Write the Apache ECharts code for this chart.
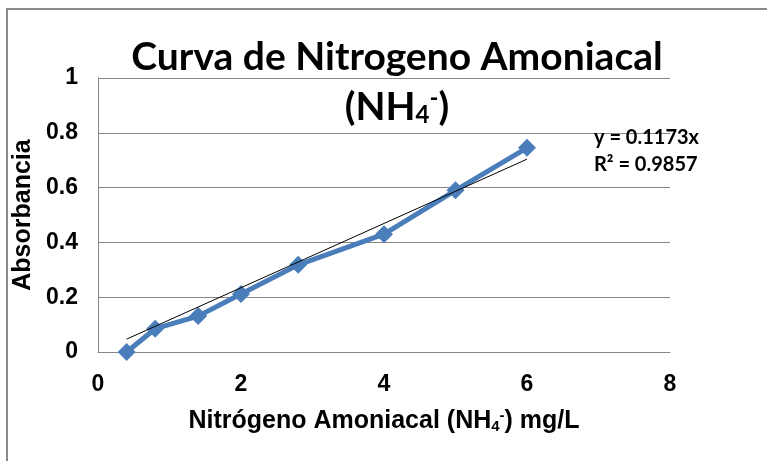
<!DOCTYPE html>
<html>
<head>
<meta charset="utf-8">
<script src="https://cdn.jsdelivr.net/npm/echarts@6/dist/echarts.min.js"></script>
<style>
  html, body { margin: 0; padding: 0; background: #fff; }
  #chart { width: 767px; height: 461px; }
</style>
</head>
<body>
<div id="chart"></div>
<script>
// datos
const concentracion = [0.4, 0.8, 1.4, 2, 2.8, 4, 5, 6]
const absorbancia = [0, 0.085, 0.131, 0.212, 0.318, 0.43, 0.59, 0.745]
const pendiente = 0.1173 // y = 0.1173x
const r2 = 0.9857
const xTicks = [0, 2, 4, 6, 8]
const yTicks = [0, 0.2, 0.4, 0.6, 0.8, 1]

const puntos = concentracion.map((x, i) => [x, absorbancia[i]])
// linea de tendencia entre el primer y ultimo punto
const xIni = concentracion[0]
const xFin = concentracion[concentracion.length - 1]
const tendencia = [[xIni, pendiente * xIni], [xFin, pendiente * xFin]]

const gris = '#868686'

const chart = echarts.init(document.getElementById('chart'))

const option = {
  animation: false,
  backgroundColor: '#fff',
  title: [
    {
      text: '{t|Curva de Nitrogeno Amoniacal}\n{t|(NH}{sub|4}{sup|-}{t|)}',
      left: 392,
      top: 27,
      textAlign: 'center',
      textStyle: {
        rich: {
          t: { fontFamily: 'Lato', fontWeight: 'bold', fontSize: 39, lineHeight: 50, color: '#000' },
          sub: { fontFamily: 'Lato', fontWeight: 'bold', fontSize: 24, lineHeight: 50, color: '#000', padding: [16, 0, 0, 0] },
          sup: { fontFamily: 'Lato', fontWeight: 'bold', fontSize: 24, lineHeight: 50, color: '#000', padding: [0, 0, 18, 0] }
        }
      }
    },
    {
      text: 'y = ' + pendiente + 'x\nR² = ' + r2,
      left: 589,
      top: 119,
      textStyle: { fontFamily: 'Lato', fontWeight: 'bold', fontSize: 20, lineHeight: 27, color: '#000' }
    }
  ],
  graphic: [
    {
      type: 'rect',
      shape: { x: 7, y: 9, width: 820, height: 520 },
      style: { fill: 'none', stroke: '#8a8a8a', lineWidth: 2 },
      silent: true
    }
  ],
  grid: { left: 98, right: 97, top: 78, bottom: 109, containLabel: false },
  xAxis: {
    type: 'value',
    min: xTicks[0],
    max: xTicks[xTicks.length - 1],
    interval: 2,
    name: '{n|Nitrógeno Amoniacal (NH}{sub|4}{sup|-}{n|) mg/L}',
    nameLocation: 'middle',
    nameGap: 56,
    nameTextStyle: {
      rich: {
        n: { fontFamily: 'Liberation Sans', fontWeight: 'bold', fontSize: 25, color: '#000' },
        sub: { fontFamily: 'Liberation Sans', fontWeight: 'bold', fontSize: 15, color: '#000', padding: [11, 0, 0, 0] },
        sup: { fontFamily: 'Liberation Sans', fontWeight: 'bold', fontSize: 15, color: '#000', padding: [0, 0, 11, 0] }
      }
    },
    axisLine: { show: true, lineStyle: { color: gris, width: 1 } },
    axisTick: { show: false },
    splitLine: { show: false },
    axisLabel: {
      margin: 21,
      fontFamily: 'Liberation Sans', fontWeight: 'bold', fontSize: 23, color: '#000',
      formatter: v => xTicks.includes(v) ? String(v) : ''
    }
  },
  yAxis: {
    type: 'value',
    min: yTicks[0],
    max: yTicks[yTicks.length - 1],
    interval: 0.2,
    name: 'Absorbancia',
    nameLocation: 'middle',
    nameGap: 56,
    nameTextStyle: { fontFamily: 'Liberation Sans', fontWeight: 'bold', fontSize: 25, color: '#000' },
    axisLine: { show: true, lineStyle: { color: gris, width: 1 } },
    axisTick: { show: false },
    splitLine: { show: true, lineStyle: { color: gris, width: 1 } },
    axisLabel: {
      margin: 20,
      fontFamily: 'Liberation Sans', fontWeight: 'bold', fontSize: 23, color: '#000',
      formatter: v => String(Math.round(v * 10) / 10)
    }
  },
  series: [
    {
      name: 'Absorbancia',
      type: 'line',
      data: puntos,
      symbol: 'diamond',
      symbolSize: 18,
      lineStyle: { color: '#4a7ebb', width: 5 },
      itemStyle: { color: '#4a7ebb' },
      z: 2
    },
    {
      name: 'Tendencia',
      type: 'line',
      data: tendencia,
      symbol: 'none',
      lineStyle: { color: '#000', width: 1 },
      z: 3
    }
  ]
}

chart.setOption(option)
</script>
</body>
</html>
